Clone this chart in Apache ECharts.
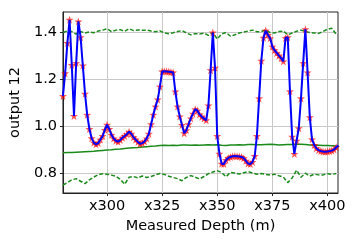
<!DOCTYPE html>
<html>
<head>
<meta charset="utf-8">
<script src="https://cdn.jsdelivr.net/npm/echarts@6/dist/echarts.min.js"></script>
<style>html,body{margin:0;padding:0;background:#fff}#c{width:358px;height:244px}</style>
</head>
<body>
<div id="c"></div>
<script>
// Blue/red model output, one value per metre from 280 to 405
const depths = [];
for (let d = 280; d <= 405; d++) depths.push(d);
const output = [
 1.13, 1.227, 1.355, 1.454, 1.262, 1.045, 1.27, 1.447, 1.38, 1.26,
 1.14, 1.05, 0.99, 0.951, 0.932, 0.925, 0.93, 0.945, 0.96, 0.986,
 1.008, 0.99, 0.965, 0.95, 0.94, 0.936, 0.943, 0.953, 0.96, 0.968,
 0.978, 0.97, 0.955, 0.945, 0.935, 0.927, 0.93, 0.937, 0.95, 0.97,
 1.01, 1.05, 1.085, 1.115, 1.17, 1.234, 1.235, 1.234, 1.233, 1.232,
 1.23, 1.149, 1.085, 1.043, 1.007, 0.972, 0.985, 1.01, 1.035, 1.055,
 1.074, 1.068, 1.052, 1.042, 1.034, 1.027, 1.09, 1.24, 1.4, 1.25,
 0.96, 0.885, 0.842, 0.841, 0.858, 0.867, 0.871, 0.874, 0.875, 0.874,
 0.873, 0.871, 0.866, 0.855, 0.843, 0.841, 0.85, 0.875, 0.96, 1.12,
 1.28, 1.378, 1.408, 1.39, 1.375, 1.34, 1.325, 1.313, 1.302, 1.291,
 1.277, 1.376, 1.38, 1.15, 0.957, 0.884, 0.94, 0.993, 1.12, 1.27,
 1.414, 1.23, 1.04, 0.946, 0.922, 0.908, 0.9, 0.896, 0.894, 0.893,
 0.894, 0.896, 0.898, 0.903, 0.912, 0.92
];
// Green reference lines, every 2 m from 280 to 404
const refDepths = [];
for (let d = 280; d <= 404; d += 2) refDepths.push(d);
const meanLine = [
 0.889, 0.890, 0.890, 0.891, 0.892, 0.893, 0.894, 0.895, 0.897, 0.899,
 0.901, 0.902, 0.904, 0.905, 0.907, 0.909, 0.910, 0.911, 0.913, 0.915,
 0.917, 0.918, 0.920, 0.921, 0.920, 0.921, 0.920, 0.922, 0.922, 0.921,
 0.922, 0.921, 0.922, 0.923, 0.922, 0.923, 0.921, 0.920, 0.922, 0.922,
 0.923, 0.922, 0.924, 0.924, 0.923, 0.923, 0.924, 0.925, 0.924, 0.922,
 0.923, 0.924, 0.924, 0.925, 0.925, 0.924, 0.922, 0.922, 0.921, 0.920,
 0.920, 0.919, 0.918
];
const upperLine = [
 1.400, 1.406, 1.404, 1.393, 1.404, 1.398, 1.402, 1.399, 1.406, 1.410,
 1.416, 1.404, 1.410, 1.412, 1.405, 1.416, 1.408, 1.411, 1.409, 1.410,
 1.406, 1.403, 1.407, 1.398, 1.395, 1.399, 1.404, 1.408, 1.398, 1.390,
 1.395, 1.394, 1.397, 1.388, 1.400, 1.372, 1.394, 1.400, 1.384, 1.390,
 1.398, 1.402, 1.406, 1.410, 1.403, 1.404, 1.410, 1.400, 1.398, 1.404,
 1.406, 1.390, 1.398, 1.405, 1.410, 1.404, 1.400, 1.398, 1.396, 1.404,
 1.414, 1.418, 1.392
];
const lowerLine = [
 0.752, 0.762, 0.774, 0.779, 0.768, 0.758, 0.774, 0.786, 0.796, 0.800,
 0.798, 0.794, 0.789, 0.776, 0.755, 0.785, 0.788, 0.782, 0.790, 0.784,
 0.788, 0.795, 0.801, 0.797, 0.789, 0.784, 0.779, 0.770, 0.784, 0.792,
 0.785, 0.778, 0.788, 0.800, 0.807, 0.813, 0.805, 0.787, 0.806, 0.803,
 0.799, 0.804, 0.809, 0.803, 0.798, 0.801, 0.797, 0.794, 0.798, 0.791,
 0.786, 0.762, 0.782, 0.815, 0.785, 0.802, 0.790, 0.798, 0.795, 0.795,
 0.800, 0.797, 0.801
];
const xTicks = [300, 325, 350, 375, 400];
const yTicks = [0.8, 1.0, 1.2, 1.4];

const zip = (xs, ys) => xs.map((x, i) => [x, ys[i]]);
const star = 'path://M0,-10L2.35,-3.24L9.51,-3.09L3.8,1.24L5.88,8.09L0,4L-5.88,8.09L-3.8,1.24L-9.51,-3.09L-2.35,-3.24Z';
const font = 'DejaVu Sans';

const chart = echarts.init(document.getElementById('c'), null, {renderer: 'canvas'});
chart.setOption({
  animation: false,
  backgroundColor: '#fff',
  grid: {left: 59, right: 20, top: 12, bottom: 51, show: true, borderColor: '#222', borderWidth: 1},
  xAxis: {
    type: 'value', min: 280, max: 404.8,
    name: 'Measured Depth (m)', nameLocation: 'middle', nameGap: 21,
    nameTextStyle: {fontFamily: font, fontSize: 14.5, color: '#000'},
    axisLine: {show: true, lineStyle: {color: '#222', width: 1}},
    axisTick: {show: true, length: 3, lineStyle: {color: '#222'}, customValues: xTicks},
    axisLabel: {customValues: xTicks, formatter: v => 'x' + v, fontFamily: font, fontSize: 14.5, color: '#000', margin: 6},
    splitLine: {show: true, lineStyle: {color: '#c8c8c8', width: 1}}
  },
  yAxis: {
    type: 'value', min: 0.718, max: 1.487,
    name: 'output 12', nameLocation: 'middle', nameGap: 34,
    nameTextStyle: {fontFamily: font, fontSize: 14.5, color: '#000'},
    axisLine: {show: true, lineStyle: {color: '#222', width: 1}},
    axisTick: {show: true, length: 3, lineStyle: {color: '#222'}, customValues: yTicks},
    axisLabel: {customValues: yTicks, formatter: v => v.toFixed(1), fontFamily: font, fontSize: 14.5, color: '#000', margin: 6},
    splitLine: {show: true, lineStyle: {color: '#c8c8c8', width: 1}}
  },
  series: [
    {type: 'line', data: zip(refDepths, upperLine), showSymbol: false, z: 2,
     lineStyle: {color: '#1a8a1a', width: 1.5, type: [4, 2]}},
    {type: 'line', data: zip(refDepths, lowerLine), showSymbol: false, z: 2,
     lineStyle: {color: '#1a8a1a', width: 1.5, type: [4, 2]}},
    {type: 'line', data: zip(refDepths, meanLine), showSymbol: false, z: 2,
     lineStyle: {color: '#1a8a1a', width: 1.5}},
    {type: 'scatter', data: zip(depths, output), symbol: star, symbolSize: 8, z: 3,
     itemStyle: {color: 'rgba(255,0,0,0.85)'}},
    {type: 'line', data: zip(depths, output), showSymbol: false, z: 4,
     lineStyle: {color: '#0000ff', width: 2}}
  ]
});
</script>
</body>
</html>
